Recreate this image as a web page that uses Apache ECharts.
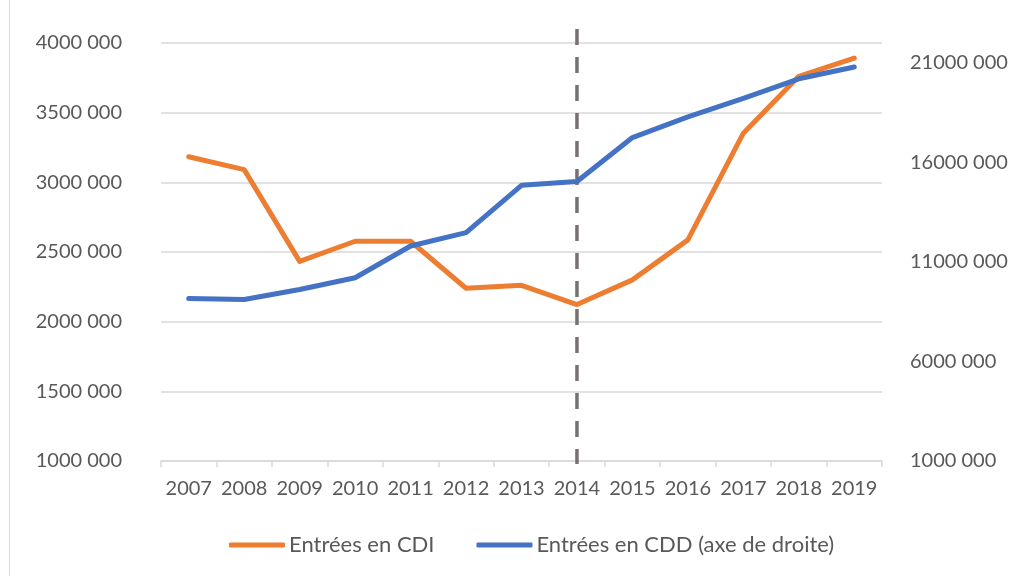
<!DOCTYPE html>
<html>
<head>
<meta charset="utf-8">
<script src="https://cdn.jsdelivr.net/npm/echarts@6/dist/echarts.min.js"></script>
<style>
  html, body { margin: 0; padding: 0; background: #fff; }
  #chart { width: 1031px; height: 576px; }
</style>
</head>
<body>
<div id="chart"></div>
<script>
const years = ["2007", "2008", "2009", "2010", "2011", "2012", "2013", "2014", "2015", "2016", "2017", "2018", "2019"];
const cdi = [3184000, 3091000, 2433000, 2577000, 2577000, 2240000, 2261000, 2123000, 2300000, 2587000, 3353000, 3761000, 3892000];
const cdd = [9165000, 9114000, 9618000, 10208000, 11801000, 12476000, 14850000, 15046000, 17250000, 18287000, 19220000, 20202000, 20792000];
const markYear = "2014";

const font = "Lato, 'Open Sans', sans-serif";
const grey = "#595959";

// "4000 000", "21000 000"
function fmt(v) {
  if (v === 0) return "0";
  return Math.round(v / 1000) + " 000";
}

const chart = echarts.init(document.getElementById("chart"));

chart.setOption({
  animation: false,
  textStyle: { fontFamily: font },
  graphic: [
    {
      type: "line",
      shape: { x1: 9.5, y1: 0, x2: 9.5, y2: 576 },
      style: { stroke: "#d9d9d9", lineWidth: 1 }
    }
  ],
  grid: { left: 161, right: 149, top: 43, bottom: 115 },
  legend: {
    left: 229,
    top: 534,
    padding: 0,
    icon: "roundRect",
    itemWidth: 56,
    itemHeight: 5,
    itemGap: 42,
    textStyle: { fontFamily: font, fontSize: 22, color: grey, padding: [0, 0, 0, -1] },
    data: ["Entrées en CDI", "Entrées en CDD (axe de droite)"]
  },
  xAxis: {
    type: "category",
    data: years,
    boundaryGap: true,
    axisLine: { lineStyle: { color: "#d9d9d9", width: 1.5 } },
    axisTick: { show: true, length: 6, lineStyle: { color: "#d9d9d9", width: 1.5 } },
    axisLabel: { color: grey, fontSize: 20, margin: 18, fontFamily: font, interval: 0 }
  },
  yAxis: [
    {
      type: "value",
      min: 1000000,
      max: 4000000,
      interval: 500000,
      axisLine: { show: false },
      axisTick: { show: false },
      splitLine: { lineStyle: { color: "#d9d9d9", width: 1.5 } },
      axisLabel: { color: grey, fontSize: 20, margin: 39, fontFamily: font, formatter: fmt }
    },
    {
      type: "value",
      min: 1000000,
      max: 22000000,
      interval: 5000000,
      axisLine: { show: false },
      axisTick: { show: false },
      splitLine: { show: false },
      axisLabel: {
        color: grey, fontSize: 20, margin: 28, fontFamily: font, align: "left",
        formatter: v => (v > 21000000 ? "" : fmt(v))
      }
    }
  ],
  series: [
    {
      type: "custom",
      name: "marker",
      clip: false,
      silent: true,
      z: 1,
      data: [[markYear]],
      encode: { x: 0 },
      renderItem: function (params, api) {
        const top = api.coord([api.value(0), 4000000]);
        const bottom = api.coord([api.value(0), 1000000]);
        return {
          type: "line",
          shape: { x1: top[0], y1: top[1] - 14, x2: bottom[0], y2: bottom[1] + 3 },
          style: { stroke: "#767171", lineWidth: 3.5, lineDash: [16, 12] }
        };
      }
    },
    {
      name: "Entrées en CDI",
      type: "line",
      yAxisIndex: 0,
      data: cdi,
      symbol: "none",
      z: 3,
      itemStyle: { color: "#ED7D31" },
      lineStyle: { color: "#ED7D31", width: 5, cap: "round", join: "round" }
    },
    {
      name: "Entrées en CDD (axe de droite)",
      type: "line",
      yAxisIndex: 1,
      data: cdd,
      symbol: "none",
      z: 4,
      itemStyle: { color: "#4472C4" },
      lineStyle: { color: "#4472C4", width: 5, cap: "round", join: "round" }
    }
  ]
});
</script>
</body>
</html>
